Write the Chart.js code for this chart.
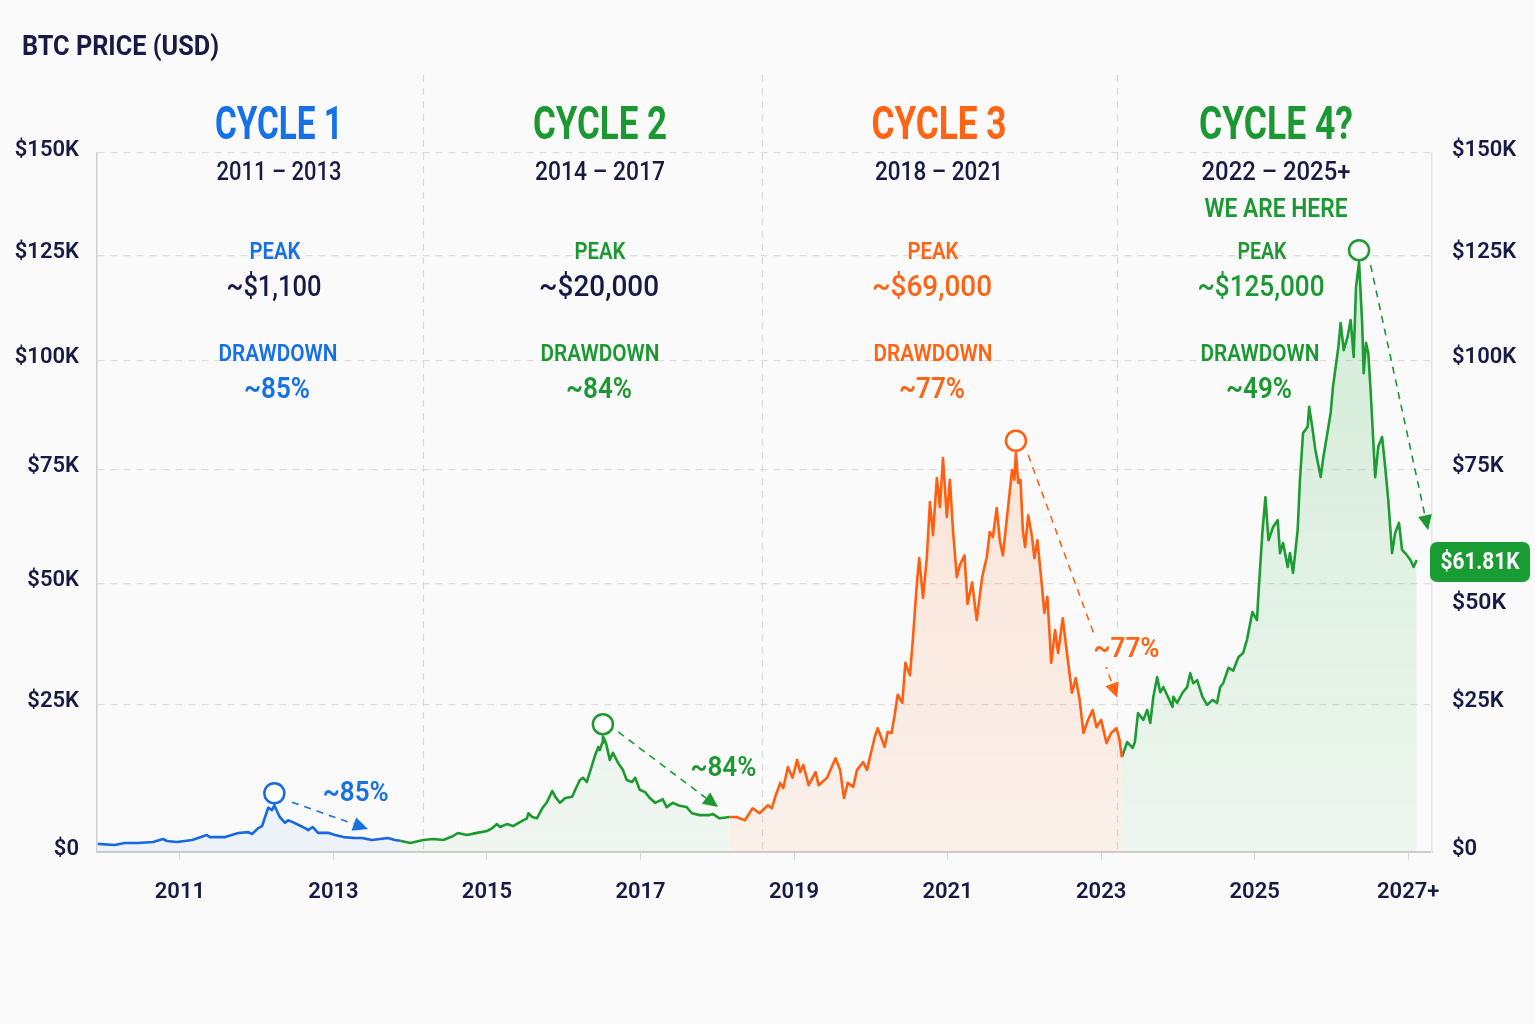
<!DOCTYPE html>
<html lang="en">
<head>
  <meta charset="UTF-8" />
  <title>BTC price cycles</title>
  <script src="https://cdn.jsdelivr.net/npm/chart.js"></script>
  <style>
    html, body { margin: 0; padding: 0; background: #fafafa; }
    canvas { display: block; }
  </style>
</head>
<body>
  <canvas id="btcChart" width="1535" height="1024"></canvas>

  <script>
    // price path per cycle (x = decimal year, y = USD)
    const cycle1Years = [2009.93, 2010.15, 2010.28, 2010.45, 2010.65, 2010.78, 2010.83, 2010.96, 2011.16, 2011.35,
      2011.39, 2011.59, 2011.76, 2011.89, 2011.94, 2012.02, 2012.07, 2012.11, 2012.15, 2012.20,
      2012.23, 2012.27, 2012.30, 2012.37, 2012.41, 2012.47, 2012.54, 2012.63, 2012.67, 2012.73,
      2012.80, 2012.93, 2013.02, 2013.13, 2013.28, 2013.37, 2013.50, 2013.71, 2013.80, 2013.87];
    const cycle1Prices = [900, 750, 1000, 1000, 1140, 1540, 1270, 1140, 1400, 2100,
      1800, 1800, 2380, 2500, 2240, 3100, 3400, 4800, 6300, 5900,
      6700, 5600, 4800, 3900, 4300, 4000, 3600, 3100, 2800, 3260,
      2400, 2400, 2100, 1800, 1670, 1670, 1400, 1670, 1400, 1300];

    const cycle2Years = [2013.87, 2014.00, 2014.17, 2014.30, 2014.43, 2014.56, 2014.62, 2014.74, 2014.87, 2015.00,
      2015.07, 2015.13, 2015.17, 2015.26, 2015.34, 2015.43, 2015.52, 2015.54, 2015.59, 2015.65,
      2015.72, 2015.78, 2015.85, 2015.89, 2015.95, 2016.02, 2016.11, 2016.15, 2016.21, 2016.25,
      2016.30, 2016.34, 2016.41, 2016.45, 2016.47, 2016.50, 2016.51, 2016.55, 2016.60, 2016.64,
      2016.71, 2016.77, 2016.82, 2016.89, 2016.93, 2016.99, 2017.06, 2017.12, 2017.19, 2017.29,
      2017.34, 2017.42, 2017.51, 2017.60, 2017.67, 2017.77, 2017.90, 2017.94, 2018.03, 2018.16];
    const cycle2Prices = [1300, 1000, 1400, 1540, 1400, 1950, 2380, 2100, 2400, 2670,
      3100, 3700, 3260, 3700, 3400, 4000, 4600, 5400, 4800, 4600,
      6200, 7200, 9100, 8100, 7100, 7900, 8100, 9300, 11000, 11400,
      10650, 12400, 15500, 17000, 16400, 17700, 19000, 17700, 14600, 15900,
      14000, 12800, 11000, 10650, 11400, 9300, 8900, 7900, 7100, 7700,
      6400, 7100, 6600, 6400, 5400, 5100, 5100, 5300, 4600, 4800];

    const cycle3Years = [2018.16, 2018.25, 2018.36, 2018.46, 2018.55, 2018.66, 2018.71, 2018.75, 2018.82, 2018.86,
      2018.92, 2018.98, 2019.04, 2019.08, 2019.12, 2019.19, 2019.28, 2019.32, 2019.43, 2019.54,
      2019.60, 2019.65, 2019.70, 2019.77, 2019.82, 2019.90, 2019.95, 2020.05, 2020.09, 2020.18,
      2020.22, 2020.27, 2020.31, 2020.35, 2020.41, 2020.45, 2020.51, 2020.55, 2020.60, 2020.63,
      2020.68, 2020.73, 2020.77, 2020.81, 2020.86, 2020.90, 2020.94, 2020.99, 2021.03, 2021.07,
      2021.12, 2021.16, 2021.22, 2021.26, 2021.32, 2021.38, 2021.45, 2021.51, 2021.55, 2021.59,
      2021.64, 2021.68, 2021.72, 2021.78, 2021.84, 2021.87, 2021.89, 2021.92, 2021.95, 2021.98,
      2022.01, 2022.05, 2022.10, 2022.13, 2022.17, 2022.23, 2022.26, 2022.30, 2022.35, 2022.40,
      2022.44, 2022.50, 2022.55, 2022.62, 2022.67, 2022.72, 2022.77, 2022.83, 2022.89, 2022.94,
      2023.00, 2023.07, 2023.13, 2023.20, 2023.24, 2023.27];
    const cycle3Prices = [4800, 4800, 4300, 6200, 5400, 6700, 6200, 7900, 10500, 9600,
      13300, 11400, 14600, 12400, 13700, 10100, 12400, 10100, 11400, 14900,
      12800, 7900, 10500, 9800, 12800, 14200, 12800, 18800, 20500, 17000,
      19800, 19600, 23000, 27000, 25400, 33400, 30900, 38700, 50000, 55400,
      46900, 55600, 67700, 60400, 73100, 66600, 77600, 64400, 72700, 61500,
      51300, 53900, 56000, 45600, 50200, 42200, 51300, 55600, 61100, 60000,
      66400, 59300, 56000, 65300, 74900, 72700, 78800, 72000, 72700, 61500,
      57800, 64800, 60000, 55400, 59300, 49200, 43700, 47100, 33400, 40100,
      35400, 42600, 36000, 27400, 30300, 26000, 19600, 22100, 24000, 20700,
      22100, 17700, 19600, 20500, 18300, 15100];

    const cycle4Years = [2023.27, 2023.34, 2023.41, 2023.44, 2023.48, 2023.55, 2023.60, 2023.64, 2023.68, 2023.73,
      2023.77, 2023.81, 2023.87, 2023.93, 2023.94, 2023.99, 2024.06, 2024.12, 2024.16, 2024.20,
      2024.25, 2024.32, 2024.38, 2024.45, 2024.51, 2024.55, 2024.59, 2024.66, 2024.72, 2024.79,
      2024.85, 2024.90, 2024.97, 2025.03, 2025.05, 2025.10, 2025.14, 2025.18, 2025.24, 2025.30,
      2025.33, 2025.37, 2025.43, 2025.46, 2025.50, 2025.56, 2025.59, 2025.63, 2025.69, 2025.71,
      2025.75, 2025.79, 2025.86, 2025.89, 2025.99, 2026.02, 2026.09, 2026.12, 2026.16, 2026.21,
      2026.25, 2026.29, 2026.32, 2026.36, 2026.40, 2026.42, 2026.45, 2026.48, 2026.51, 2026.57,
      2026.61, 2026.66, 2026.70, 2026.74, 2026.79, 2026.83, 2026.88, 2026.92, 2026.96, 2027.03,
      2027.07, 2027.11];
    const cycle4Prices = [15100, 17900, 16800, 17900, 23400, 22100, 24000, 21500, 26600, 30500,
      27500, 28500, 26600, 24600, 26600, 25400, 27400, 28500, 31300, 29300,
      29900, 26600, 25000, 26000, 25400, 28500, 29300, 32400, 31800, 34600,
      35400, 38100, 43900, 42200, 47900, 60900, 68800, 59300, 62200, 63700,
      56500, 58700, 53500, 56500, 52200, 61500, 72700, 83300, 84700, 89300,
      84700, 79500, 73300, 77200, 87900, 93900, 103200, 108900, 102500, 105600,
      109600, 100900, 117400, 123400, 108900, 97100, 104200, 101800, 93200, 73300,
      80200, 82400, 75600, 68200, 56500, 60900, 63100, 57200, 56500, 55000,
      53500, 55000];

    // axes
    const yearTicks = [2011, 2013, 2015, 2017, 2019, 2021, 2023, 2025, 2027];
    const priceTicks = [0, 25000, 50000, 75000, 100000, 125000, 150000];
    const cycleBoundaries = [2014.17, 2018.58, 2023.21];

    // annotation texts
    const cycleNames = ['CYCLE 1', 'CYCLE 2', 'CYCLE 3', 'CYCLE 4?'];
    const cycleRanges = ['2011 – 2013', '2014 – 2017', '2018 – 2021', '2022 – 2025+'];
    const peakLabels = ['~$1,100', '~$20,000', '~$69,000', '~$125,000'];
    const drawdownLabels = ['~85%', '~84%', '~77%', '~49%'];
    const currentPriceLabel = '$61.81K';

    // drawdown arrows (year, price) and their labels
    const arrowFrom = [[2012.46, 7200], [2016.71, 19800], [2022.05, 78300], [2026.51, 122700]];
    const arrowTo = [[2013.45, 2960], [2018.01, 6400], [2023.21, 26400], [2027.26, 61500]];
    const arrowLabelAt = [[2013.29, 9100], [2018.08, 13500], [2023.33, 36600], null];

    const NAVY = '#161a45';
    const BLUE = '#1670e6';
    const GREEN = '#1b9832';
    const ORANGE = '#ff6414';
    const accent = [BLUE, GREEN, ORANGE, GREEN];
    const lineColors = ['#1668e3', '#1b9a2f', '#ff5f0f', '#1c9c33'];

    // y axis is drawn compressed toward the top, like the source picture
    const EXP = 0.87;
    class PowScale extends Chart.LinearScale {
      _t(v) { return Math.pow(Math.max(v, 0), EXP); }
      getPixelForValue(value) {
        if (value === null || value === undefined || isNaN(value)) return NaN;
        const lo = this._t(this.min), hi = this._t(this.max);
        return this.getPixelForDecimal((this._t(value) - lo) / (hi - lo));
      }
      getValueForPixel(pixel) {
        const lo = this._t(this.min), hi = this._t(this.max);
        return Math.pow(lo + this.getDecimalForPixel(pixel) * (hi - lo), 1 / EXP);
      }
    }
    PowScale.id = 'pow';
    PowScale.defaults = {};
    Chart.register(PowScale);

    function fillGradient(rgb, top, bottom) {
      return (c) => {
        const area = c.chart.chartArea;
        if (!area) return `rgba(${rgb},${bottom})`;
        const g = c.chart.ctx.createLinearGradient(0, area.top, 0, area.bottom);
        g.addColorStop(0, `rgba(${rgb},${top})`);
        g.addColorStop(1, `rgba(${rgb},${bottom})`);
        return g;
      };
    }

    function series(years, prices) {
      return years.map((x, i) => ({ x: x, y: prices[i] }));
    }

    const cycles = [
      series(cycle1Years, cycle1Prices),
      series(cycle2Years, cycle2Prices),
      series(cycle3Years, cycle3Prices),
      series(cycle4Years, cycle4Prices)
    ];
    const fills = [
      fillGradient('30,120,230', 0.10, 0.06),
      fillGradient('40,170,60', 0.10, 0.05),
      fillGradient('255,110,30', 0.20, 0.07),
      fillGradient('40,175,65', 0.20, 0.06)
    ];

    function fmtPrice(v) {
      return v === 0 ? '$0' : '$' + (v / 1000) + 'K';
    }

    function fitText(ctx, text, x, y, font, color, width, align) {
      ctx.save();
      ctx.font = font;
      ctx.fillStyle = color;
      ctx.textBaseline = 'middle';
      ctx.textAlign = align || 'center';
      const s = width ? width / ctx.measureText(text).width : 1;
      ctx.translate(x, y + 3);
      ctx.scale(s, 1);
      ctx.fillText(text, 0, 0);
      ctx.restore();
    }

    function drawArrow(ctx, x1, y1, x2, y2, color) {
      const ang = Math.atan2(y2 - y1, x2 - x1);
      const head = 15, hw = 7;
      const bx = x2 - head * Math.cos(ang), by = y2 - head * Math.sin(ang);
      ctx.save();
      ctx.strokeStyle = color;
      ctx.fillStyle = color;
      ctx.lineWidth = 1.6;
      ctx.setLineDash([7, 6]);
      ctx.beginPath();
      ctx.moveTo(x1, y1);
      ctx.lineTo(bx, by);
      ctx.stroke();
      ctx.setLineDash([]);
      ctx.beginPath();
      ctx.moveTo(x2, y2);
      ctx.lineTo(bx + hw * Math.sin(ang), by - hw * Math.cos(ang));
      ctx.lineTo(bx - hw * Math.sin(ang), by + hw * Math.cos(ang));
      ctx.closePath();
      ctx.fill();
      ctx.restore();
    }

    const overlay = {
      id: 'overlay',
      beforeDatasetsDraw(chart) {
        const { ctx, chartArea, scales } = chart;
        ctx.save();
        ctx.strokeStyle = '#dadada';
        ctx.lineWidth = 1.2;
        ctx.setLineDash([7, 6]);
        cycleBoundaries.forEach(yr => {
          const x = Math.round(scales.x.getPixelForValue(yr)) + 0.5;
          ctx.beginPath();
          ctx.moveTo(x, 75);
          ctx.lineTo(x, chartArea.bottom);
          ctx.stroke();
        });
        ctx.restore();
      },
      afterDatasetsDraw(chart) {
        const { ctx, scales } = chart;
        const xs = scales.x, ys = scales.y;

        // peak markers
        cycles.forEach((pts, i) => {
          let best = pts[0];
          pts.forEach(p => { if (p.y > best.y) best = p; });
          const px = xs.getPixelForValue(best.x);
          const py = ys.getPixelForValue(best.y) - 12;
          ctx.save();
          ctx.beginPath();
          ctx.arc(px, py, 10, 0, Math.PI * 2);
          ctx.fillStyle = '#ffffff';
          ctx.fill();
          ctx.lineWidth = 2.5;
          ctx.strokeStyle = lineColors[i];
          ctx.stroke();
          ctx.restore();
        });

        // drawdown arrows
        arrowFrom.forEach((f, i) => {
          const t = arrowTo[i];
          drawArrow(ctx, xs.getPixelForValue(f[0]), ys.getPixelForValue(f[1]),
            xs.getPixelForValue(t[0]), ys.getPixelForValue(t[1]), accent[i]);
          const at = arrowLabelAt[i];
          if (at) {
            const lx = xs.getPixelForValue(at[0]), ly = ys.getPixelForValue(at[1]);
            ctx.save();
            ctx.fillStyle = '#fafafa';
            ctx.fillRect(lx - 36, ly - 14, 72, 34);
            ctx.restore();
            fitText(ctx, drawdownLabels[i], lx, ly, '600 28px Roboto', accent[i], 66);
          }
        });
      },
      afterDraw(chart) {
        const { ctx, chartArea, scales } = chart;

        fitText(ctx, 'BTC PRICE (USD)', 22, 45, 'bold 28px Roboto', NAVY, 197, 'left');

        const titleX = [279, 600, 939, 1276];
        const peakX = [275, 600, 933, 1262];
        const ddX = [278, 600, 933, 1260];
        const titleW = [128, 134, 135, 154];
        const rangeW = [125, 130, 128, 149];
        const valueW = [95, 120, 120, 127];
        const valueColor = [NAVY, NAVY, ORANGE, GREEN];

        cycleNames.forEach((name, i) => {
          fitText(ctx, name, titleX[i], 124, 'bold 46px Roboto', accent[i], titleW[i]);
          fitText(ctx, cycleRanges[i], titleX[i], 171, '500 25px Roboto', NAVY, rangeW[i]);
          fitText(ctx, 'PEAK', peakX[i], 250, '600 24px Roboto', accent[i], i === 3 ? 49 : 51);
          fitText(ctx, peakLabels[i], peakX[i] - 1, 286, '500 29px Roboto', valueColor[i], valueW[i]);
          fitText(ctx, 'DRAWDOWN', ddX[i], 352, '600 24px Roboto', accent[i], 119);
          fitText(ctx, drawdownLabels[i], ddX[i] - 1, 388, '600 29px Roboto', accent[i], 66);
        });
        fitText(ctx, 'WE ARE HERE', titleX[3], 207, '600 26px Roboto', GREEN, 143);

        // current price tag
        const last = cycles[3][cycles[3].length - 1];
        const ty = scales.y.getPixelForValue(last.y) + 2;
        const tx = chartArea.right - 2, tw = 100, th = 40;
        ctx.save();
        ctx.fillStyle = '#1a9c35';
        ctx.beginPath();
        ctx.roundRect(tx, ty - th / 2, tw, th, 7);
        ctx.fill();
        ctx.restore();
        fitText(ctx, currentPriceLabel, tx + tw / 2, ty - 2, 'bold 23px Roboto', '#ffffff', 79);

        // right-axis $50K label sits below the tag
        fitText(ctx, fmtPrice(50000), chartArea.right + 20, ty + th / 2 + 19, '600 22px Roboto', NAVY, 54, 'left');
      }
    };

    new Chart(document.getElementById('btcChart'), {
      type: 'line',
      data: {
        datasets: cycles.map((pts, i) => ({
          label: cycleNames[i],
          data: pts,
          borderColor: lineColors[i],
          backgroundColor: fills[i],
          borderWidth: 2.6,
          borderJoinStyle: 'round',
          pointRadius: 0,
          tension: 0,
          fill: 'origin',
          yAxisID: 'y'
        }))
      },
      options: {
        responsive: false,
        devicePixelRatio: 1,
        animation: false,
        layout: { padding: { top: 153, bottom: 72, left: 0, right: 0 } },
        plugins: {
          legend: { display: false },
          tooltip: { enabled: false },
          title: { display: false }
        },
        scales: {
          x: {
            type: 'linear',
            min: 2009.92,
            max: 2027.31,
            afterBuildTicks: s => { s.ticks = yearTicks.map(v => ({ value: v })); },
            afterFit: s => { s.height = 100; },
            ticks: {
              padding: 19,
              color: NAVY,
              font: { family: 'Roboto', size: 22, weight: '600' },
              maxRotation: 0,
              callback: v => v === 2027 ? '2027+' : String(v)
            },
            grid: { drawOnChartArea: false, drawTicks: true, tickLength: 8, color: '#d8d8d8' },
            border: { display: true, color: '#cdcdcd', width: 2 }
          },
          y: {
            type: 'pow',
            position: 'left',
            min: 0,
            max: 150000,
            afterBuildTicks: s => { s.ticks = priceTicks.map(v => ({ value: v })); },
            afterFit: s => { s.width = 97; },
            ticks: {
              padding: 18,
              labelOffset: -3,
              color: NAVY,
              font: { family: 'Roboto', size: 22, weight: '600' },
              callback: v => fmtPrice(v)
            },
            grid: { color: '#dedede', lineWidth: 1.2, drawTicks: false },
            border: { display: true, color: '#cfcfcf', width: 1.5, dash: [7, 6] }
          },
          y2: {
            type: 'pow',
            position: 'right',
            min: 0,
            max: 150000,
            afterBuildTicks: s => { s.ticks = priceTicks.map(v => ({ value: v })); },
            afterFit: s => { s.width = 103; },
            ticks: {
              padding: 20,
              labelOffset: -3,
              color: NAVY,
              font: { family: 'Roboto', size: 22, weight: '600' },
              callback: v => v === 50000 ? '' : fmtPrice(v)
            },
            grid: { display: false, drawTicks: false },
            border: { display: true, color: '#e6e6e6', width: 1.5 }
          }
        }
      },
      plugins: [overlay]
    });
  </script>
</body>
</html>
